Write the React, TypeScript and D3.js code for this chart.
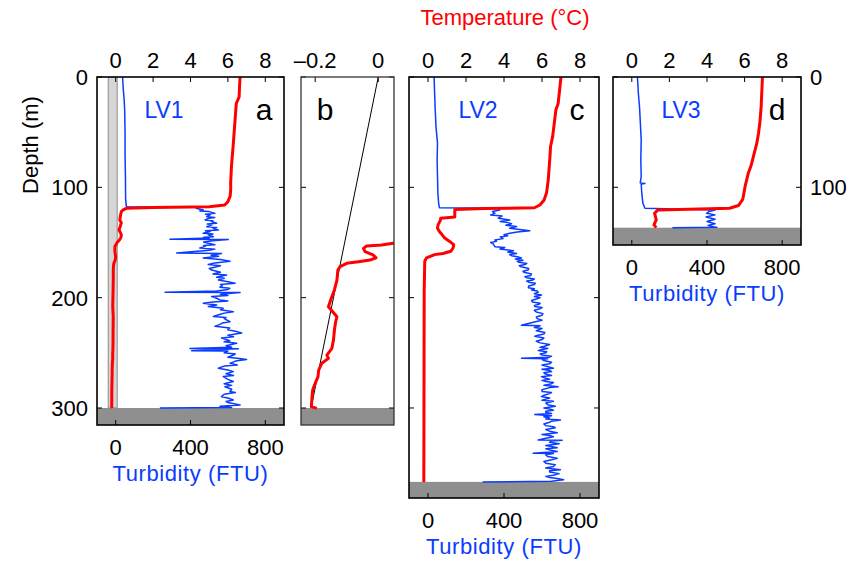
import React from 'react';
import * as d3 from 'd3';

// ---------- tick values ----------
const tempTicks = [0, 2, 4, 6, 8];
const tempTicksB = [-0.2, 0];
const turbTicks = [0, 400, 800];
const depthTicks = [0, 100, 200, 300];
const depthLabelsA = [0, 100, 200, 300];
const depthLabelsD = [0, 100];

// ---------- data: [depth (m), value] ----------
const lv1Temp: [number, number][] = [
  [0, 6.65], [10, 6.62], [18, 6.6], [24, 6.45], [35, 6.4], [51, 6.33], [65, 6.27], [81, 6.19],
  [95, 6.15], [102, 6.15], [108, 6.12], [113, 6.0], [116, 5.83], [117.5, 5.0], [118.3, 2.0],
  [119, 0.57], [120.5, 0.4], [122, 0.3], [126, 0.25], [129.6, 0.22], [132, 0.3], [135, 0.25],
  [138.7, 0.18], [141, 0.25], [143, 0.3], [145.5, 0.28], [147.7, 0.2], [149.5, 0.1], [150.7, 0.047],
  [152.3, 0.011], [153.2, -0.037], [155.3, -0.047], [158.3, -0.042], [161.3, -0.016], [163.8, -0.007],
  [165.9, -0.026], [167.4, -0.063], [168.9, -0.1], [171.9, -0.121], [174.9, -0.128], [184, -0.131],
  [193, -0.139], [200.6, -0.149], [208.2, -0.158], [211.2, -0.149], [217.3, -0.131], [221.8, -0.135],
  [229.3, -0.139], [238.4, -0.142], [245.9, -0.147], [252, -0.163], [255, -0.158], [259.5, -0.179],
  [265.6, -0.189], [271.6, -0.191], [277.6, -0.2], [283.7, -0.208], [289.8, -0.21], [298.8, -0.212],
  [300.3, -0.195],
];

const lv1Turb: [number, number][] = [
  [0, 37], [10, 40], [20, 45], [30, 48], [50, 50], [70, 50], [90, 52], [110, 53], [116, 56], [117.5, 58],
  [118, 450], [119, 430], [120.5, 468], [121.5, 450], [122, 500], [123.6, 531], [124.3, 480], [125, 505],
  [126.6, 487], [127.3, 530], [128, 500], [129.6, 478], [130.3, 520], [131, 510], [132.6, 540],
  [133.3, 490], [134, 515], [135.7, 487], [136.3, 540], [137, 520], [138.7, 549], [139.3, 480], [140, 505],
  [141.7, 468], [142.3, 520], [143, 495], [144.7, 522], [145.3, 470], [146, 500], [147, 290], [147.3, 602],
  [148.5, 520], [149.5, 470], [150.6, 495], [152, 530], [152.7, 470], [153.5, 480], [155, 450], [156, 530],
  [157, 500], [159.5, 326], [160, 566], [161.5, 510], [162.5, 550], [164, 468], [165.5, 560], [167, 611],
  [168.5, 530], [170, 495], [171, 560], [172, 540], [173.5, 500], [175, 513], [177, 560], [178.5, 520],
  [179.5, 593], [181.5, 540], [182.5, 580], [184, 549], [185.5, 600], [187, 638], [188, 560], [189, 570],
  [190.5, 558], [191.5, 610], [192.5, 600], [194, 540], [195, 264], [195.3, 665], [197, 560], [198, 600],
  [199, 513], [200.5, 540], [202, 558], [203, 600], [204, 520], [205, 468], [206.7, 540], [208, 495],
  [209.6, 575], [211, 560], [212.7, 629], [214, 580], [215, 560], [217, 522], [218, 590], [219, 580],
  [221.8, 611], [223, 570], [224, 560], [226, 531], [227.5, 610], [229, 600], [230.5, 640], [232, 674],
  [234, 600], [235.5, 630], [236.6, 566], [239, 610], [240, 580], [241.4, 647], [243.5, 590], [245, 620],
  [246, 397], [246.3, 656], [248, 406], [248.3, 600], [250, 580], [251, 640], [252, 630], [254, 600],
  [255, 650], [256, 700], [257.5, 640], [259.5, 611], [261, 650], [262, 580], [264, 549], [265.5, 600],
  [267, 629], [269, 590], [270.5, 630], [271.5, 575], [274, 600], [276, 629], [278, 580], [279.5, 620],
  [280.7, 584], [283, 620], [285, 611], [286, 640], [287.5, 580], [289.7, 566], [291, 600], [292.8, 629],
  [294, 590], [295, 600], [297.3, 665], [298.5, 558], [299.5, 620], [300, 236],
];

const lv1MeltLine: [number, number][] = [[0, 0], [300, -0.213]];
const lv1Band: [number, number] = [-0.4, 0.08];

const lv2Temp: [number, number][] = [
  [0, 7.0], [24, 6.85], [30, 6.73], [54, 6.56], [63, 6.45], [72, 6.42], [93, 6.33], [105, 6.24],
  [111.5, 6.11], [116, 5.89], [118.5, 5.6], [119.3, 3.0], [120, 1.41], [127, 1.41], [128, 0.67],
  [130, 0.65], [134, 0.53], [137, 0.5], [140, 0.6], [142, 0.7], [146, 0.88], [149, 1.14], [152, 1.35],
  [155, 1.32], [158, 1.2], [160, 0.79], [161, 0.35], [164, -0.08], [167, -0.17], [193, -0.2], [367, -0.22],
];

const lv2Turb: [number, number][] = [
  [0, 32], [15, 35], [30, 38], [45, 42], [60, 50], [75, 48], [90, 50], [105, 52], [114.5, 56], [118.5, 60],
  [119, 370], [120.5, 378], [122, 340], [123.6, 352], [125, 330], [126, 390], [128, 370], [129.6, 430],
  [131, 380], [132, 420], [133, 440], [134.3, 410], [135.6, 466], [137, 430], [139.3, 536], [140.5, 470],
  [141.7, 430], [143, 400], [144, 420], [145, 380], [146.5, 395], [147.7, 352], [149, 360], [150, 330],
  [151, 342], [153.8, 352], [154.5, 404], [156, 378], [157.5, 450], [158.7, 420], [160, 466], [161, 430],
  [162, 440], [163, 470], [164, 492], [165, 460], [166, 500], [167, 470], [168, 480], [169, 520],
  [170, 510], [171, 480], [172, 490], [173.5, 530], [175, 527], [176, 500], [177, 505], [178.5, 545],
  [180, 540], [181, 510], [182, 520], [183, 560], [184, 552], [185, 520], [186, 530], [187, 565],
  [188, 560], [189.5, 530], [191, 528], [192, 560], [193, 545], [194, 575], [195, 580], [196.5, 560],
  [197.6, 597], [199, 560], [200, 590], [201, 575], [202.5, 545], [204, 550], [205, 590], [206, 585],
  [207, 560], [208, 562], [209, 600], [210, 590], [211.5, 560], [213, 570], [214.5, 605], [216, 600],
  [217.5, 570], [219, 575], [220.5, 600], [222, 560], [225, 492], [225.5, 590], [227, 560], [228, 600],
  [229, 585], [230, 570], [231.5, 615], [233, 610], [234, 580], [235, 562], [236.5, 610], [238, 600],
  [239.5, 570], [241, 590], [242.5, 640], [244, 613], [245, 590], [246, 630], [247, 600], [248, 580],
  [249, 625], [250, 620], [251, 590], [252, 600], [253, 650], [254, 640], [255, 492], [255.3, 630],
  [256, 600], [257, 610], [258.5, 650], [260, 640], [261, 600], [262.6, 632], [264, 660], [265, 600],
  [266, 640], [267, 650], [268, 610], [269, 615], [270.5, 650], [271.6, 597], [273, 620], [274, 640],
  [275, 600], [276, 620], [277, 660], [278, 650], [279.5, 610], [280.7, 685], [281.5, 640], [282, 630],
  [283.5, 600], [285, 600], [286, 650], [287, 640], [288.5, 610], [289.7, 597], [291, 640], [292, 620],
  [293, 600], [294, 660], [295.5, 620], [297, 630], [298.5, 670], [300, 610], [301, 640], [302, 660],
  [303, 620], [304, 620], [305, 650], [306, 562], [307, 650], [308, 610], [309, 640], [310, 620],
  [311, 697], [312, 650], [313, 640], [314.5, 610], [316, 620], [317, 660], [318, 670], [319.5, 620],
  [321, 640], [322.5, 680], [324, 600], [325, 640], [326, 660], [327.5, 620], [329, 580], [329.3, 706],
  [330, 650], [331, 640], [332.5, 690], [334, 620], [335, 650], [336, 680], [337, 620], [338, 640],
  [339.5, 680], [341, 553], [341.3, 660], [342.5, 620], [344, 630], [345.5, 680], [347, 650], [348.5, 610],
  [350, 620], [351.5, 670], [353, 660], [354.5, 620], [356, 697], [357, 640], [358, 640], [359.5, 690],
  [361, 660], [362, 620], [363, 640], [364, 680], [365, 714], [366.5, 650], [367, 287],
];

const lv3Temp: [number, number][] = [
  [0, 6.95], [27, 6.88], [40, 6.82], [51, 6.74], [60, 6.65], [72, 6.47], [80, 6.35], [87, 6.2],
  [99, 6.03], [111, 5.9], [116.5, 5.67], [119, 5.2], [120.5, 1.39], [123.6, 1.21], [126, 1.25],
  [129.6, 1.3], [132, 1.23], [134, 1.18], [136.6, 1.3],
];

const lv3Turb: [number, number][] = [
  [0, 30], [15, 35], [27, 41], [40, 45], [57, 50], [75, 48], [90, 50], [96, 45], [96.5, 70], [97, 50],
  [105, 53], [114.5, 59], [119, 70], [120.5, 443], [122, 410], [123.6, 398], [125, 443], [127, 395],
  [129, 443], [131, 400], [133, 443], [134.5, 405], [136, 440], [136.3, 452], [136.6, 216],
];

// ---------- style ----------
const RED = '#ff0000';
const BLUE = '#0a3cff';
const FLOOR = '#8f8f8f';
const FONT = '"Liberation Sans", Arial, Helvetica, sans-serif';
const FS = 22;

type Series = { data: [number, number][]; kind: 'temp' | 'turb' | 'line'; };

type PanelDef = {
  id: string;
  left: number; right: number; top: number; bottom: number;
  xDomain: [number, number];
  depthMax: number;
  floor: number;
  xTicks: number[];
  xTickFmt: (v: number) => string;
  bottomTicks?: number[];
  series: Series[];
  band?: [number, number];
  letter: string;
  name?: string;
  nameX?: number;
  letterX: number;
  stroke: string;
  strokeW: number;
};

const panels: PanelDef[] = [
  {
    id: 'a', left: 97, right: 284, top: 77, bottom: 425, xDomain: [-1, 9], depthMax: 315.4, floor: 300,
    xTicks: tempTicks, xTickFmt: (v) => String(v), bottomTicks: turbTicks,
    series: [{ data: lv1Turb, kind: 'turb' }, { data: lv1Temp, kind: 'temp' }],
    band: lv1Band, letter: 'a', name: 'LV1', nameX: 164, letterX: 264, stroke: '#000', strokeW: 1.6,
  },
  {
    id: 'b', left: 301, right: 394, top: 77, bottom: 425, xDomain: [-0.245, 0.05], depthMax: 315.4, floor: 300,
    xTicks: tempTicksB, xTickFmt: (v) => (v < 0 ? '\u2013' + String(Math.abs(v)) : String(v)),
    series: [{ data: lv1MeltLine, kind: 'line' }, { data: lv1Temp, kind: 'temp' }],
    letter: 'b', letterX: 325, stroke: '#333', strokeW: 1.3,
  },
  {
    id: 'c', left: 409, right: 599, top: 77, bottom: 498, xDomain: [-1, 9], depthMax: 381.6, floor: 367,
    xTicks: tempTicks, xTickFmt: (v) => String(v), bottomTicks: turbTicks,
    series: [{ data: lv2Turb, kind: 'turb' }, { data: lv2Temp, kind: 'temp' }],
    letter: 'c', name: 'LV2', nameX: 478, letterX: 577, stroke: '#000', strokeW: 1.6,
  },
  {
    id: 'd', left: 613, right: 801, top: 77, bottom: 245, xDomain: [-1, 9], depthMax: 152.3, floor: 136.6,
    xTicks: tempTicks, xTickFmt: (v) => String(v), bottomTicks: turbTicks,
    series: [{ data: lv3Turb, kind: 'turb' }, { data: lv3Temp, kind: 'temp' }],
    letter: 'd', name: 'LV3', nameX: 681, letterX: 777, stroke: '#000', strokeW: 1.6,
  },
];

function Panel({ p }: { p: PanelDef }) {
  const x = d3.scaleLinear().domain(p.xDomain).range([p.left, p.right]);
  const xT = d3.scaleLinear().domain([p.xDomain[0] * 100, p.xDomain[1] * 100]).range([p.left, p.right]);
  const y = d3.scaleLinear().domain([0, p.depthMax]).range([p.top, p.bottom]);
  const tl = 5;
  const clipId = 'clip-' + p.id;
  return (
    <g>
      <defs>
        <clipPath id={clipId}>
          <rect x={p.left} y={p.top} width={p.right - p.left} height={p.bottom - p.top} />
        </clipPath>
      </defs>
      <g clipPath={`url(#${clipId})`}>
        {p.band && (
          <rect x={x(p.band[0])} y={p.top} width={x(p.band[1]) - x(p.band[0])} height={y(p.floor) - p.top}
            fill="#d6d6d6" stroke="#8a8a8a" strokeWidth={1} />
        )}
        <rect x={p.left} y={y(p.floor)} width={p.right - p.left} height={p.bottom - y(p.floor)} fill={FLOOR} />
        {p.series.map((s, i) => {
          const sx = s.kind === 'turb' ? xT : x;
          const path = d3.line<[number, number]>().x((d) => sx(d[1])).y((d) => y(d[0]))(s.data) || '';
          const color = s.kind === 'temp' ? RED : s.kind === 'turb' ? BLUE : '#000';
          const w = s.kind === 'temp' ? 3 : s.kind === 'turb' ? 1.5 : 1;
          return <path key={i} d={path} fill="none" stroke={color} strokeWidth={w} strokeLinejoin="round" />;
        })}
      </g>
      {p.xTicks.map((t) => (
        <line key={'tt' + t} x1={x(t)} x2={x(t)} y1={p.top} y2={p.top + tl} stroke="#000" strokeWidth={1} />
      ))}
      {(p.bottomTicks || []).map((t) => (
        <line key={'bt' + t} x1={xT(t)} x2={xT(t)} y1={p.bottom} y2={p.bottom - tl} stroke="#000" strokeWidth={1} />
      ))}
      {depthTicks.filter((t) => t <= p.depthMax).map((t) => (
        <g key={'dt' + t}>
          <line x1={p.left} x2={p.left + tl} y1={y(t)} y2={y(t)} stroke="#000" strokeWidth={1} />
          <line x1={p.right} x2={p.right - tl} y1={y(t)} y2={y(t)} stroke="#000" strokeWidth={1} />
        </g>
      ))}
      <rect x={p.left} y={p.top} width={p.right - p.left} height={p.bottom - p.top} fill="none"
        stroke={p.stroke} strokeWidth={p.strokeW} />
      {p.xTicks.map((t) => (
        <text key={'tl' + t} x={x(t)} y={68} textAnchor="middle" fontSize={FS} fontFamily={FONT}>{p.xTickFmt(t)}</text>
      ))}
      {(p.bottomTicks || []).map((t) => (
        <text key={'bl' + t} x={xT(t)} y={p.bottom + 30} textAnchor="middle" fontSize={FS} fontFamily={FONT}>{t}</text>
      ))}
      {p.bottomTicks && (
        <text x={(p.left + p.right) / 2} y={p.bottom + 56} textAnchor="middle" fontSize={FS} fontFamily={FONT}
          letterSpacing={0.6} fill={BLUE}>Turbidity (FTU)</text>
      )}
      {p.name && (
        <text x={p.nameX} y={118} textAnchor="middle" fontSize={23} fontFamily={FONT} fill={BLUE}>{p.name}</text>
      )}
      <text x={p.letterX} y={120} textAnchor="middle" fontSize={30} fontFamily={FONT} fill="#000">{p.letter}</text>
    </g>
  );
}

export default function App() {
  const pa = panels[0];
  const pd = panels[3];
  const ya = d3.scaleLinear().domain([0, pa.depthMax]).range([pa.top, pa.bottom]);
  const yd = d3.scaleLinear().domain([0, pd.depthMax]).range([pd.top, pd.bottom]);
  return (
    <svg width={853} height={564} style={{ position: 'absolute', left: 0, top: 0, background: '#fff' }}>
      <rect x={0} y={0} width={853} height={564} fill="#fff" />
      <text x={505} y={25} textAnchor="middle" fontSize={FS} fontFamily={FONT} fill={RED}>Temperature (°C)</text>
      {panels.map((p) => <Panel key={p.id} p={p} />)}
      {depthLabelsA.map((t) => (
        <text key={'la' + t} x={88} y={ya(t) + 8} textAnchor="end" fontSize={FS} fontFamily={FONT}>{t}</text>
      ))}
      {depthLabelsD.map((t) => (
        <text key={'ld' + t} x={810} y={yd(t) + 8} textAnchor="start" fontSize={FS} fontFamily={FONT}>{t}</text>
      ))}
      <text transform={`translate(38,145) rotate(-90)`} textAnchor="middle" fontSize={FS} fontFamily={FONT}>Depth (m)</text>
    </svg>
  );
}
